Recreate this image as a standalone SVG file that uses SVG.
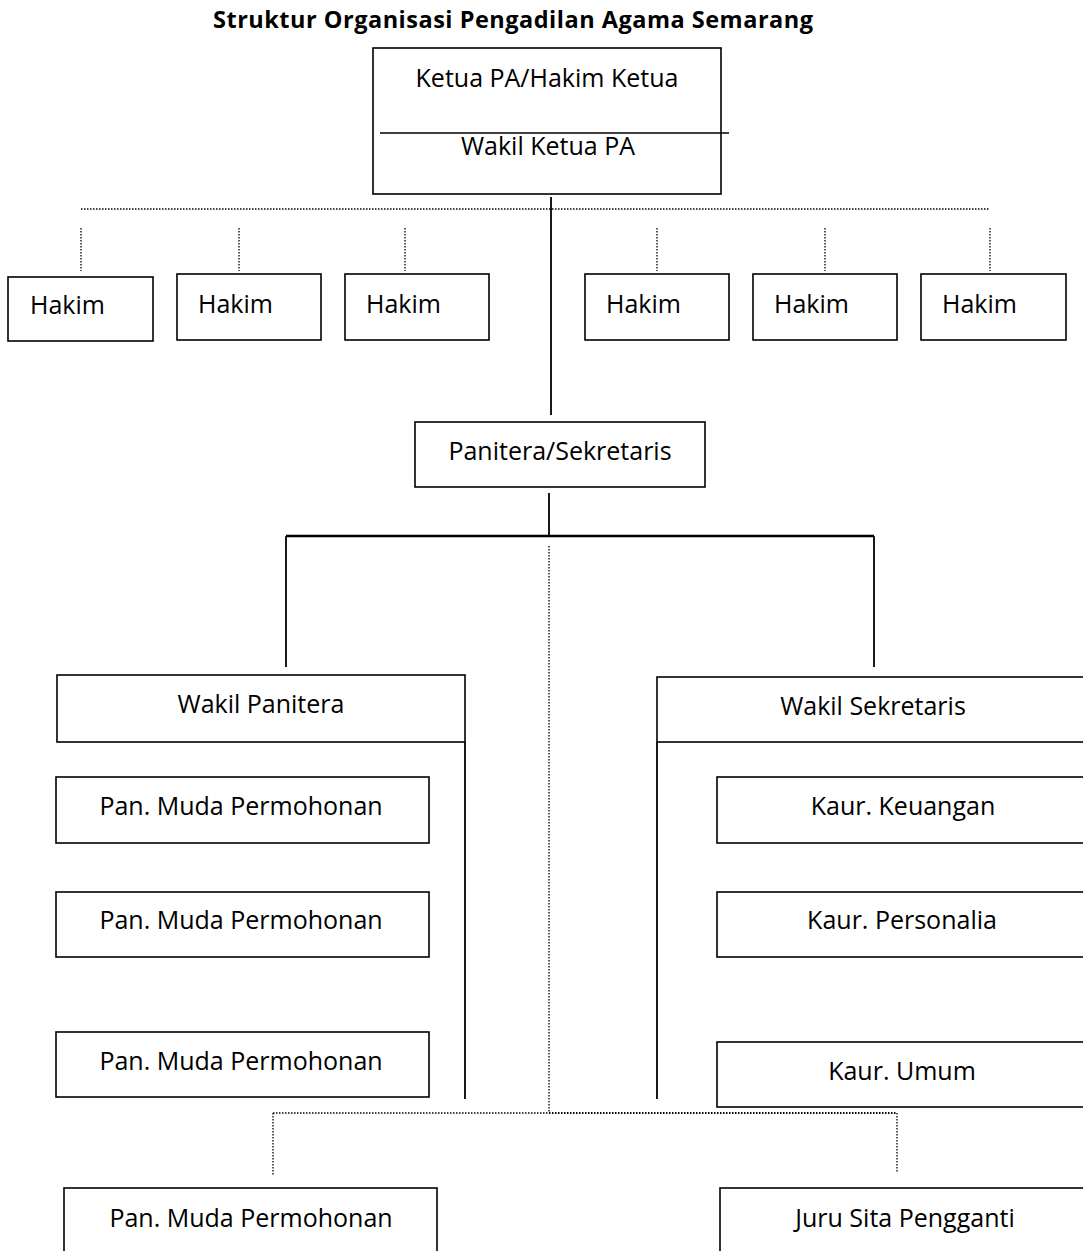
<svg xmlns="http://www.w3.org/2000/svg" width="1083" height="1251" viewBox="0 0 1083 1251">
<style>
.box{fill:#fff;stroke:#000;stroke-width:1.6}
.t{font-family:"Open Sans","Noto Sans","Liberation Sans",sans-serif;font-size:25px;fill:#000}
.c{text-anchor:middle}
.solid{stroke:#000;stroke-width:1.8;fill:none}
.thick{stroke:#000;stroke-width:2.6;fill:none}
.dot{stroke:#000;stroke-width:1.3;stroke-dasharray:1.5 1.5;fill:none}
.title{font-family:"Open Sans","Noto Sans","Liberation Sans",sans-serif;font-size:23.5px;font-weight:bold;fill:#000;text-anchor:middle}
</style>
<rect width="1083" height="1251" fill="#fff"/>
<text class="title" x="513" y="28" textLength="600">Struktur Organisasi Pengadilan Agama Semarang</text>

<g id="connectors">
<line class="solid" x1="551" y1="197" x2="551" y2="415"/>
<line class="dot" x1="81" y1="209" x2="990" y2="209"/>
<line class="dot" x1="81" y1="228" x2="81" y2="271"/>
<line class="dot" x1="239" y1="228" x2="239" y2="271"/>
<line class="dot" x1="405" y1="228" x2="405" y2="271"/>
<line class="dot" x1="657" y1="228" x2="657" y2="271"/>
<line class="dot" x1="825" y1="228" x2="825" y2="271"/>
<line class="dot" x1="990" y1="228" x2="990" y2="271"/>
<line class="solid" x1="549" y1="493" x2="549" y2="536"/>
<line class="thick" x1="286" y1="536" x2="874" y2="536"/>
<line class="solid" x1="286" y1="536" x2="286" y2="667"/>
<line class="solid" x1="874" y1="536" x2="874" y2="667"/>
<line class="solid" x1="465" y1="742" x2="465" y2="1099"/>
<line class="solid" x1="657" y1="742" x2="657" y2="1099"/>
<line class="dot" x1="549" y1="546" x2="549" y2="1113"/>
<line class="dot" x1="273" y1="1113" x2="549" y2="1113"/>
<line class="dot" x1="549" y1="1113" x2="897" y2="1113" style="stroke-width:1.8"/>
<line class="dot" x1="273" y1="1113" x2="273" y2="1175"/>
<line class="dot" x1="897" y1="1113" x2="897" y2="1173"/>
</g>

<g id="ketua">
<rect class="box" x="373" y="48" width="348" height="146"/>
<line class="solid" x1="380" y1="133" x2="729" y2="133" style="stroke-width:1.5"/>
<text class="t c" x="547" y="87">Ketua PA/Hakim Ketua</text>
<text class="t c" x="548" y="155">Wakil Ketua PA</text>
</g>

<g id="hakim1"><rect class="box" x="8" y="277" width="145" height="64"/><text class="t" x="30" y="314">Hakim</text></g>
<g id="hakim2"><rect class="box" x="177" y="274" width="144" height="66"/><text class="t" x="198" y="313">Hakim</text></g>
<g id="hakim3"><rect class="box" x="345" y="274" width="144" height="66"/><text class="t" x="366" y="313">Hakim</text></g>
<g id="hakim4"><rect class="box" x="585" y="274" width="144" height="66"/><text class="t" x="606" y="313">Hakim</text></g>
<g id="hakim5"><rect class="box" x="753" y="274" width="144" height="66"/><text class="t" x="774" y="313">Hakim</text></g>
<g id="hakim6"><rect class="box" x="921" y="274" width="145" height="66"/><text class="t" x="942" y="313">Hakim</text></g>

<g id="panitera"><rect class="box" x="415" y="422" width="290" height="65"/><text class="t c" x="560" y="460">Panitera/Sekretaris</text></g>

<g id="wakil-panitera"><rect class="box" x="57" y="675" width="408" height="67"/><text class="t c" x="261" y="713">Wakil Panitera</text></g>
<g id="panmuda1"><rect class="box" x="56" y="777" width="373" height="66"/><text class="t c" x="241" y="815">Pan. Muda Permohonan</text></g>
<g id="panmuda2"><rect class="box" x="56" y="892" width="373" height="65"/><text class="t c" x="241" y="929">Pan. Muda Permohonan</text></g>
<g id="panmuda3"><rect class="box" x="56" y="1032" width="373" height="65"/><text class="t c" x="241" y="1070">Pan. Muda Permohonan</text></g>

<g id="wakil-sekretaris"><rect class="box" x="657" y="677" width="440" height="65"/><text class="t c" x="873" y="715">Wakil Sekretaris</text></g>
<g id="kaur-keuangan"><rect class="box" x="717" y="777" width="380" height="66"/><text class="t c" x="903" y="815">Kaur. Keuangan</text></g>
<g id="kaur-personalia"><rect class="box" x="717" y="892" width="380" height="65"/><text class="t c" x="902" y="929">Kaur. Personalia</text></g>
<g id="kaur-umum"><rect class="box" x="717" y="1042" width="380" height="65"/><text class="t c" x="902" y="1080">Kaur. Umum</text></g>

<g id="panmuda4"><rect class="box" x="64" y="1188" width="373" height="80"/><text class="t c" x="251" y="1227">Pan. Muda Permohonan</text></g>
<g id="juru-sita"><rect class="box" x="720" y="1188" width="380" height="80"/><text class="t c" x="905" y="1227">Juru Sita Pengganti</text></g>
</svg>
